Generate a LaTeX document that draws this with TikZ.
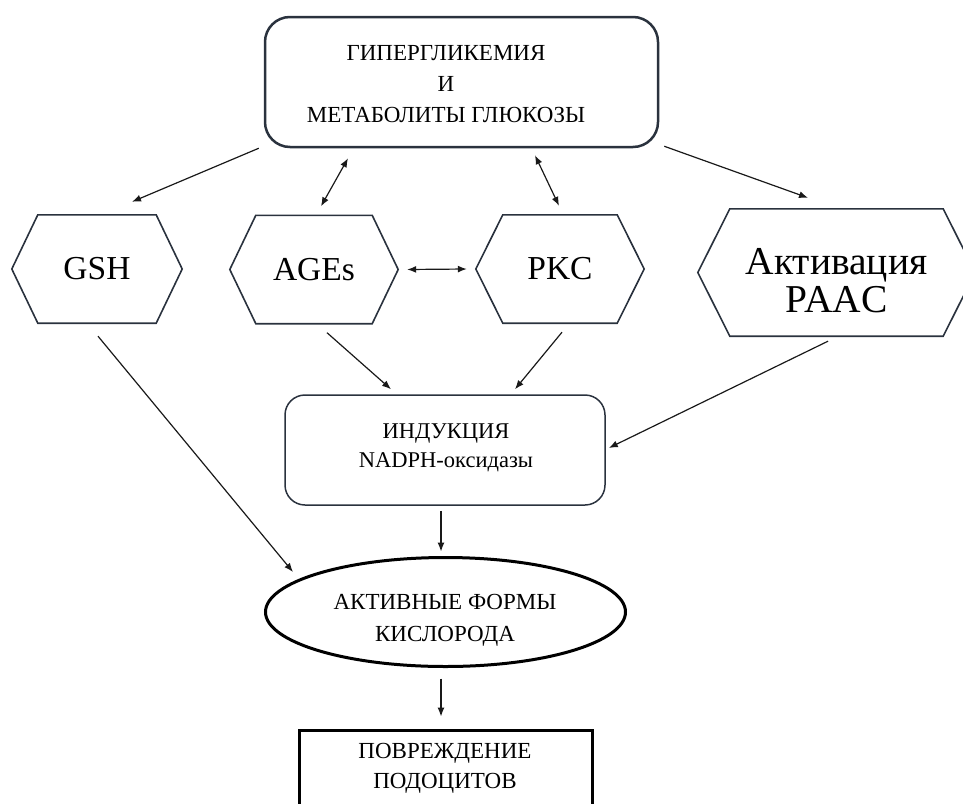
\documentclass[tikz,border=0pt]{standalone}
\usepackage{fontspec}
\setmainfont{Liberation Serif}
\usetikzlibrary{arrows.meta,shapes.geometric}
\definecolor{edge}{RGB}{42,50,62}
\tikzset{
  conn/.style={draw=black!90, line width=1.2pt, -{Latex[length=9pt,width=7pt]}},
  bconn/.style={draw=black!90, line width=1.2pt, {Latex[length=9pt,width=7pt]}-{Latex[length=9pt,width=7pt]}},
  hexbox/.style={minimum width=#1, minimum height=108pt, inner sep=0pt, font=\fontsize{33.5}{40}\selectfont},
  hexline/.style={draw=edge, line width=1.6pt, line join=miter},
  txt/.style={align=center, inner sep=0pt},
}
\begin{document}
\begin{tikzpicture}[x=1pt,y=1pt]
\useasboundingbox (0,0) rectangle (963,-803);
% top box
\node[draw=edge, line width=2.5pt, rounded corners=25pt, minimum width=393pt, minimum height=130pt] (top) at (461.5,-82) {};
\node[txt, font=\fontsize{23}{31}\selectfont] (toptxt) at (446,-84.5) {ГИПЕРГЛИКЕМИЯ\\И\\МЕТАБОЛИТЫ ГЛЮКОЗЫ};
% hexagons
\node[hexbox=170pt] (gsh) at (97,-269) {GSH};
\draw[hexline] (gsh.west) -- ([xshift=26pt]gsh.north west) -- ([xshift=-26pt]gsh.north east) -- (gsh.east) -- ([xshift=-26pt]gsh.south east) -- ([xshift=26pt]gsh.south west) -- cycle;
\node[hexbox=168pt] (ages) at (314,-269.5) {AGEs};
\draw[hexline] (ages.west) -- ([xshift=26pt]ages.north west) -- ([xshift=-26pt]ages.north east) -- (ages.east) -- ([xshift=-26pt]ages.south east) -- ([xshift=26pt]ages.south west) -- cycle;
\node[hexbox=168pt] (pkc) at (560,-269) {PKC};
\draw[hexline] (pkc.west) -- ([xshift=27pt]pkc.north west) -- ([xshift=-27pt]pkc.north east) -- (pkc.east) -- ([xshift=-27pt]pkc.south east) -- ([xshift=27pt]pkc.south west) -- cycle;
\node[hexbox=277pt, minimum height=127pt] (paac) at (836.5,-272.5) {};
\draw[hexline] (paac.west) -- ([xshift=32pt]paac.north west) -- ([xshift=-32pt]paac.north east) -- (paac.east) -- ([xshift=-32pt]paac.south east) -- ([xshift=32pt]paac.south west) -- cycle;
\node[txt, font=\fontsize{39.5}{38}\selectfont] (paactxt) at (836.5,-281) {Активация\\PAAC};
% NADPH box
\node[draw=edge, line width=1.5pt, rounded corners=20pt, minimum width=320pt, minimum height=110pt] (nadph) at (445,-450) {};
\node[txt, font=\fontsize{22.5}{29}\selectfont] (nadphtxt) at (446,-447.5) {ИНДУКЦИЯ\\NADPH-оксидазы};
% ellipse
\node[draw=black, line width=3pt, ellipse, minimum width=360pt, minimum height=109pt, inner sep=0pt] (ros) at (445.5,-612) {};
\node[txt, font=\fontsize{23}{32}\selectfont] (rostxt) at (445,-620) {АКТИВНЫЕ ФОРМЫ\\КИСЛОРОДА};
% bottom box
\node[draw=black, line width=3pt, minimum width=293pt, minimum height=90pt, inner sep=0pt] (bot) at (445.5,-775) {};
\node[txt, font=\fontsize{23}{30}\selectfont] (bottxt) at (445,-768) {ПОВРЕЖДЕНИЕ\\ПОДОЦИТОВ};
% connectors
\draw[conn] ([xshift=-5pt]top.south west) -- ([shift={(35pt,13pt)}]gsh.north);
\draw[bconn] ([shift={(-113.5pt,-10pt)}]top.south) -- ([shift={(7pt,9pt)}]ages.north);
\draw[bconn] ([shift={(73.5pt,-7pt)}]top.south) -- ([shift={(-1pt,9pt)}]pkc.north);
\draw[conn] ([shift={(5pt,2pt)}]top.south east) -- ([shift={(-28.5pt,11pt)}]paac.north);
\draw[bconn] ([xshift=9pt]ages.east) -- ([xshift=-9pt]pkc.west);
\draw[conn] ([shift={(13pt,-9pt)}]ages.south) -- ([shift={(-54pt,5pt)}]nadph.north);
\draw[conn] ([shift={(2pt,-9pt)}]pkc.south) -- ([shift={(70pt,5pt)}]nadph.north);
\draw[conn] ([shift={(-8.5pt,-5pt)}]paac.south) -- ([shift={(3pt,2pt)}]nadph.east);
\draw[conn] ([shift={(1pt,-13pt)}]gsh.south) -- ([shift={(-152.5pt,40pt)}]ros.center);
\draw[conn] ([shift={(-4pt,-5pt)}]nadph.south) -- ([shift={(-4.5pt,4.5pt)}]ros.north);
\draw[conn] ([shift={(-4.5pt,-10.5pt)}]ros.south) -- ([shift={(-4.5pt,12pt)}]bot.north);
\end{tikzpicture}
\end{document}
